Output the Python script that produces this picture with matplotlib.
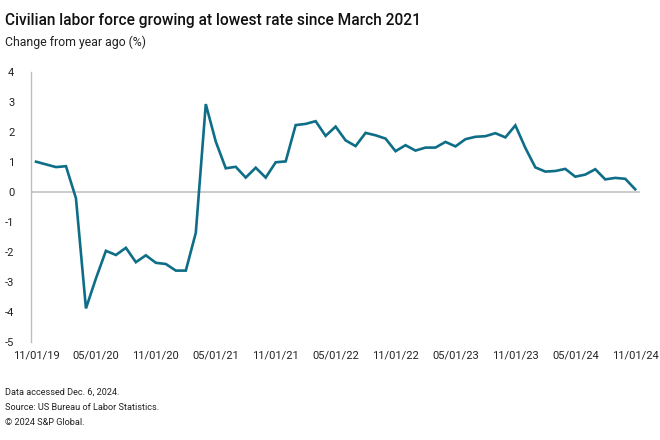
import matplotlib.pyplot as plt
import numpy as np

plt.rcParams['font.family'] = ['Roboto', 'DejaVu Sans']

# year-over-year change in civilian labor force, monthly Nov 2019 - Nov 2024
values = [1.01, 0.92, 0.83, 0.86, -0.21, -3.88, -2.88, -1.96, -2.10, -1.86,
          -2.34, -2.11, -2.36, -2.40, -2.62, -2.62, -1.36, 2.93, 1.68, 0.79,
          0.84, 0.48, 0.81, 0.48, 0.99, 1.02, 2.23, 2.27, 2.36, 1.87,
          2.18, 1.72, 1.53, 1.97, 1.89, 1.78, 1.36, 1.56, 1.38, 1.48,
          1.48, 1.67, 1.52, 1.76, 1.84, 1.86, 1.96, 1.82, 2.22, 1.47,
          0.82, 0.68, 0.70, 0.77, 0.51, 0.58, 0.76, 0.42, 0.47, 0.44, 0.09]
tick_labels = ['11/01/19', '05/01/20', '11/01/20', '05/01/21', '11/01/21',
               '05/01/22', '11/01/22', '05/01/23', '11/01/23', '05/01/24',
               '11/01/24']
yticks = [4, 3, 2, 1, 0, -1, -2, -3, -4, -5]

fig = plt.figure(figsize=(6.6, 4.4), dpi=100)
ax = fig.add_axes([0.047, 0.2227, 0.923, 0.6137])

x = np.arange(len(values))
ax.axhline(0, color='#bdbdbd', lw=1.1, zorder=1)
ax.plot(x, values, color='#0f6e87', lw=1.9, zorder=2, solid_joinstyle='miter')

ax.set_xlim(-0.5, 60.5)
ax.set_ylim(-5, 4)
ax.set_yticks(yticks)
ax.set_yticklabels([str(v) for v in yticks])
ax.set_xticks(np.arange(0, 61, 6))
ax.set_xticklabels(tick_labels)
ax.tick_params(length=0, labelsize=8, colors='#222222')
ax.tick_params(axis='y', pad=12)
ax.tick_params(axis='x', pad=6)
for s in ['top', 'right', 'bottom']:
    ax.spines[s].set_visible(False)
ax.spines['left'].set_color('#bdbdbd')
ax.spines['left'].set_linewidth(1)

fig.text(0.008, 0.953, 'Civilian labor force growing at lowest rate since March 2021',
         fontsize=11.2, fontweight='medium', color='#111111', va='center')
fig.text(0.008, 0.903, 'Change from year ago (%)', fontsize=8.8, color='#222222', va='center')
fig.text(0.008, 0.109, 'Data accessed Dec. 6, 2024.', fontsize=6.6, color='#222222', va='center')
fig.text(0.008, 0.073, 'Source: US Bureau of Labor Statistics.', fontsize=6.6, color='#222222', va='center')
fig.text(0.008, 0.039, '\u00a9 2024 S&P Global.', fontsize=6.6, color='#222222', va='center')

fig.savefig('out.png', dpi=100)
